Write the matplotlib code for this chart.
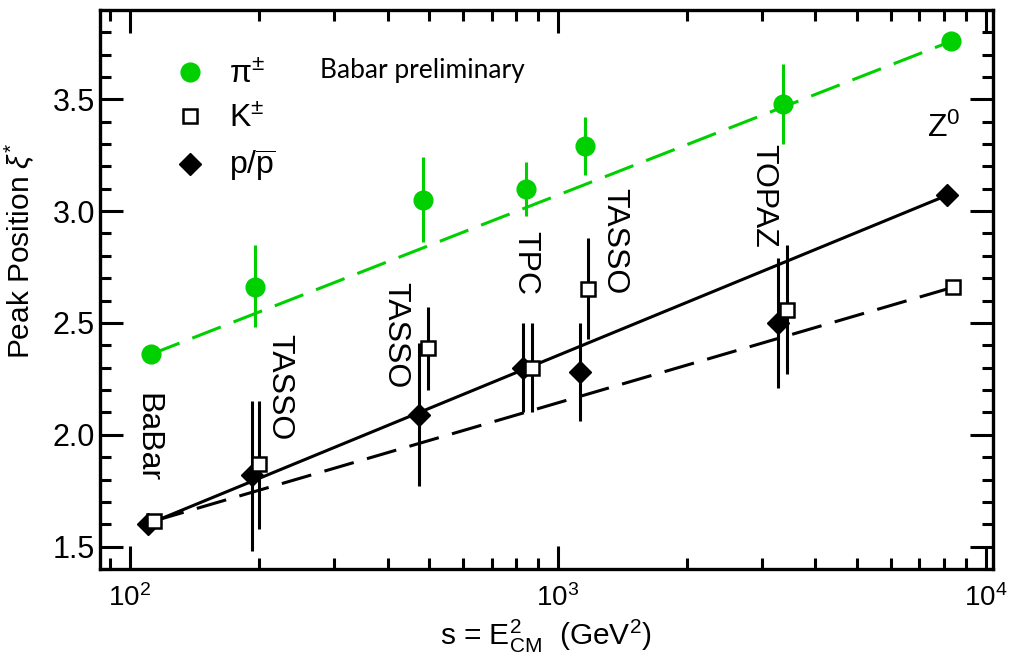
import matplotlib
matplotlib.use("Agg")
import matplotlib.pyplot as plt
import numpy as np
from matplotlib.lines import Line2D
from matplotlib.ticker import LogLocator, MultipleLocator, NullFormatter, FormatStrFormatter

plt.rcParams['font.family'] = ['Liberation Sans', 'DejaVu Sans']
plt.rcParams['mathtext.fontset'] = 'custom'
plt.rcParams['mathtext.rm'] = 'Liberation Sans'
plt.rcParams['mathtext.it'] = 'Liberation Sans:italic'
plt.rcParams['mathtext.bf'] = 'Liberation Sans:bold'

# ---------------- data ----------------
experiments = ["BaBar", "TASSO", "TASSO", "TPC", "TASSO", "TOPAZ", "Z$^0$"]

pion_x = [112, 196, 484, 841, 1160, 3364, 8317]
pion_y = [2.36, 2.66, 3.05, 3.10, 3.29, 3.48, 3.76]
pion_err_lo = [0.0, 0.18, 0.19, 0.12, 0.13, 0.18, 0.0]
pion_err_hi = [0.0, 0.19, 0.19, 0.12, 0.13, 0.18, 0.0]

kaon_x = [114, 200, 496, 871, 1174, 3440, 8400]
kaon_y = [1.615, 1.87, 2.39, 2.30, 2.65, 2.56, 2.66]
kaon_err_lo = [0.0, 0.29, 0.19, 0.20, 0.22, 0.29, 0.0]
kaon_err_hi = [0.0, 0.28, 0.18, 0.20, 0.23, 0.29, 0.0]

proton_x = [110, 193, 473, 828, 1127, 3270, 8100]
proton_y = [1.60, 1.82, 2.09, 2.30, 2.28, 2.50, 3.07]
proton_err_lo = [0.0, 0.34, 0.32, 0.20, 0.22, 0.29, 0.0]
proton_err_hi = [0.0, 0.33, 0.32, 0.20, 0.22, 0.29, 0.0]

# experiment label anchors (x in s, y in xi*)
label_x = [110, 223, 416, 837, 1357, 3027, 7990]
label_y = [1.987, 2.215, 2.444, 2.766, 2.864, 3.07, 3.37]
label_rot = [270, 270, 270, 270, 270, 270, 0]

green = '#00CF00'

fig = plt.figure(figsize=(10.15, 6.57), dpi=100)
ax = fig.add_axes([0.0985, 0.134, 0.8795, 0.851])
ax.set_xscale('log')
ax.set_xlim(85.1, 10380)
ax.set_ylim(1.4, 3.9)

lw = 2.2
# error bars
ax.errorbar(pion_x, pion_y, yerr=[pion_err_lo, pion_err_hi], fmt='none',
            ecolor=green, elinewidth=lw, capsize=0, zorder=2)
ax.errorbar(kaon_x, kaon_y, yerr=[kaon_err_lo, kaon_err_hi], fmt='none',
            ecolor='black', elinewidth=lw, capsize=0, zorder=2)
ax.errorbar(proton_x, proton_y, yerr=[proton_err_lo, proton_err_hi], fmt='none',
            ecolor='black', elinewidth=lw, capsize=0, zorder=2)

# straight lines (in log s) joining lowest and highest energy points
ax.plot([pion_x[0], pion_x[-1]], [pion_y[0], pion_y[-1]], color=green, lw=lw,
        dashes=(10, 4.5), zorder=3)
ax.plot([kaon_x[0], kaon_x[-1]], [kaon_y[0], kaon_y[-1]], color='black', lw=lw,
        dashes=(10, 4.5), zorder=3)
ax.plot([proton_x[0], proton_x[-1]], [proton_y[0], proton_y[-1]], color='black', lw=lw,
        zorder=3)

# markers
ax.plot(pion_x, pion_y, 'o', color=green, ms=13.5, mec=green, zorder=5)
ax.plot(proton_x, proton_y, 'D', color='black', ms=11, zorder=5)
ax.plot(kaon_x, kaon_y, 's', mfc='white', mec='black', mew=1.8, ms=9.5, zorder=6)

# experiment labels
for t, x, y, r in zip(experiments, label_x, label_y, label_rot):
    ax.text(x, y, t, rotation=r, fontsize=23, ha='center', va='center')

ax.text(278, 3.63, "Babar preliminary", fontsize=19, family=['Lato', 'DejaVu Sans'],
        ha='left', va='center')

# legend
handles = [
    Line2D([], [], ls='none', marker='o', color=green, ms=13.5),
    Line2D([], [], ls='none', marker='s', mfc='white', mec='black', mew=1.8, ms=9.5),
    Line2D([], [], ls='none', marker='D', color='black', ms=11),
]
labels = [r"$\mathrm{\pi}^{\pm}$", r"K$^{\pm}$", r"p/$\overline{\mathrm{p}}$"]
ax.legend(handles, labels, loc='upper left', bbox_to_anchor=(0.069, 0.933),
          frameon=False, fontsize=23, handlelength=1.0, handletextpad=0.7,
          labelspacing=0.44, borderaxespad=0)

# axes styling
ax.xaxis.set_major_locator(LogLocator(base=10, numticks=10))
ax.xaxis.set_minor_locator(LogLocator(base=10, subs=np.arange(2, 10), numticks=20))
ax.xaxis.set_minor_formatter(NullFormatter())
ax.yaxis.set_major_locator(MultipleLocator(0.5))
ax.yaxis.set_minor_locator(MultipleLocator(0.1))
ax.yaxis.set_major_formatter(FormatStrFormatter('%.1f'))

ax.tick_params(which='both', direction='in', top=True, right=True, width=2.2)
ax.tick_params(which='major', length=16.5)
ax.tick_params(which='minor', length=8)
ax.tick_params(axis='y', which='major', labelsize=22, pad=3.5)
ax.tick_params(axis='x', which='major', labelsize=20, pad=11)
for s in ax.spines.values():
    s.set_linewidth(2.4)

ax.set_ylabel(r"Peak Position $\xi^{*}$", fontsize=21.5)
ax.yaxis.set_label_coords(-0.07, 0.569)
ax.set_xlabel(r"s = E$^2_{\mathrm{CM}}$  (GeV$^2$)", fontsize=21.5)
ax.xaxis.set_label_coords(0.5, -0.088)

fig.savefig("out.png", dpi=100)
